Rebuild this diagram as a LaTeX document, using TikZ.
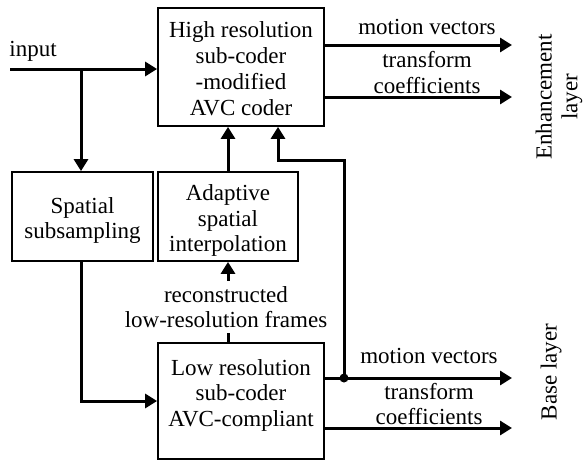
\documentclass[tikz,border=0pt]{standalone}
\usepackage{fontspec}
\setmainfont{Liberation Serif}
\usetikzlibrary{arrows.meta}
\begin{document}
\begin{tikzpicture}[x=1pt,y=-1pt,
  box/.style={draw,line width=1.8pt,rectangle,inner sep=0pt},
  lbl/.style={align=center,inner sep=0pt},
  conn/.style={line width=3pt},
  arr/.style={line width=3pt,-{Triangle[length=12pt,width=14pt]}},
  font=\fontsize{23}{25.7}\selectfont]
\useasboundingbox (0,0) rectangle (583,463);
% boxes
\node[box,minimum width=166pt,minimum height=118pt] (hi) at (241,67) {};
\node[box,minimum width=141pt,minimum height=89pt] (sub) at (82.5,216.5) {};
\node[box,minimum width=140pt,minimum height=89pt] (adp) at (228,216.5) {};
\node[box,minimum width=166pt,minimum height=116pt] (lo) at (241,401) {};
% box texts
\node[lbl] (hiT) at (241,68.7) {High resolution\\sub-coder\\-modified\\AVC coder};
\node[lbl] (subT) at (82.5,220.5) {Spatial\\subsampling};
\node[lbl] (adpT) at (228,220.5) {Adaptive\\spatial\\interpolation};
\node[lbl] (loT) at (241,395.4) {Low resolution\\sub-coder\\AVC-compliant};
% labels
\node[lbl,inner sep=5pt] (rec) at (226,307) {reconstructed\\low-resolution frames};
\node[lbl] (inlbl) at (33,51) {input};
\node[lbl] (hmv) at (427,26.5) {motion vectors};
\node[lbl] (htc) at (427,72.5) {transform\\coefficients};
\node[lbl] (lmv) at (429,356) {motion vectors};
\node[lbl] (ltc) at (429,404) {transform\\coefficients};
\node[lbl,rotate=90] (enh) at (559,97) {Enhancement\\layer};
\node[lbl,rotate=90] (base) at (551,372) {Base layer};
% coordinates
\coordinate (in) at (10,69);
\coordinate (br) at (81,69);
\coordinate (hmvend) at (512,45);
\coordinate (htcend) at (512,97);
\coordinate (lmvend) at (512,378);
\coordinate (ltcend) at (512,428);
\coordinate (dot) at (344,378);
\coordinate (fb) at (278,160);
% connectors
\draw[arr] (in) -- (in -| hi.west);
\draw[arr] (br) -- (sub.north -| br);
\draw[arr] (sub.south -| br) |- (lo.west);
\draw[arr] (adp.north) -- (adp.north |- hi.south);
\draw[arr] (rec.north -| adp.south) -- (adp.south);
\draw[conn] (lo.north -| adp.south) -- (rec.south -| adp.south);
\draw[arr] (hmvend -| hi.east) -- (hmvend);
\draw[arr] (htcend -| hi.east) -- (htcend);
\draw[arr] (lmvend -| lo.east) -- (lmvend);
\draw[arr] (ltcend -| lo.east) -- (ltcend);
\draw[conn,line cap=rect] (dot) |- (fb);
\draw[arr] (fb) -- (fb |- hi.south);
\fill (dot) circle (4.5pt);
\end{tikzpicture}
\end{document}
